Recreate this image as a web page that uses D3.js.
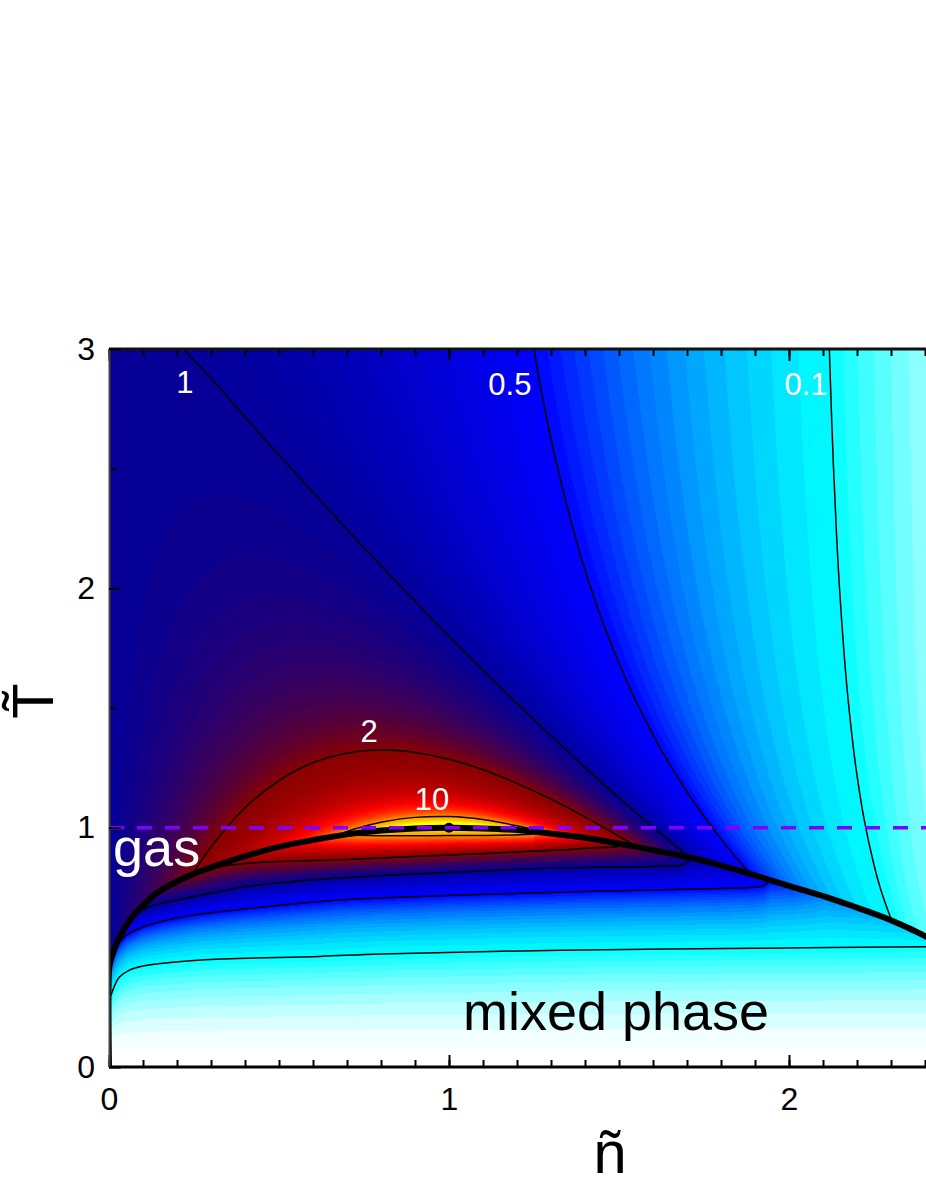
<!DOCTYPE html>
<html><head><meta charset="utf-8">
<script src="https://cdn.jsdelivr.net/npm/d3@7/dist/d3.min.js"></script>
<style>
body{margin:0;background:#fff}
svg{display:block}
text{font-family:"Liberation Sans",Arial,Helvetica,sans-serif}
</style>
</head><body><div id="chart"></div>
<script>
// ---------------- DATA ----------------
// scaled variance omega on a (n, T) grid in the single-phase region (values read/estimated)
const nGrid=[0,0.1,0.2,0.3,0.4,0.5,0.6,0.7,0.8,0.9,1.0,1.1,1.2,1.3,1.4,1.5,1.6,1.7,1.8,1.9,2.0,2.1,2.2,2.3,2.4];
const tGrid=[0.55,0.9,1.2,1.6,2.2,3.0];
const omegaT055=[1.000,1.5127,3.0324,137.08,-3.2787,-1.6517,-1.1210,-0.8604,-0.7076,-0.6094,-0.5432,-0.4983,-0.4692,-0.4537,-0.4521,-0.4681,-0.5119,-0.6138,-0.8980,-2.9877,1.2222,0.3968,0.1975,0.1116,0.0659];
const omegaT090=[1.000,1.2193,1.5433,2.0637,3.0179,5.2632,16.0,-20.544,-7.1176,-4.7805,-4.0,-3.8922,-4.5,-7.3631,64.0,4.0,1.6897,0.9299,0.5714,0.3720,0.25,0.1706,0.1168,0.0793,0.0526];
const omegaT120=[1.000,1.1329,1.2937,1.4880,1.7201,1.9900,2.2857,2.5719,2.7816,2.8303,2.6667,2.3225,1.8947,1.4778,1.1228,0.8421,0.6282,0.4677,0.3478,0.2580,0.1905,0.1394,0.1006,0.0712,0.0488];
const omegaT160=[1.000,1.0758,1.1538,1.2305,1.3006,1.3571,1.3913,1.3948,1.3615,1.2900,1.1852,1.0569,0.9172,0.7776,0.6465,0.5289,0.4270,0.3407,0.2689,0.2098,0.1616,0.1226,0.0912,0.0661,0.0462];
const omegaT220=[1.000,1.0332,1.0600,1.0779,1.0843,1.0768,1.0539,1.0148,0.9603,0.8926,0.8148,0.7310,0.6450,0.5603,0.4799,0.4055,0.3384,0.2788,0.2268,0.1820,0.1438,0.1116,0.0847,0.0624,0.0444];
const omegaT300=[1.000,1.0049,1.0020,0.9905,0.9696,0.9390,0.8989,0.8501,0.7940,0.7322,0.6667,0.5995,0.5325,0.4675,0.4056,0.3478,0.2948,0.2469,0.2041,0.1663,0.1333,0.1049,0.0806,0.0601,0.0431];

// binodal (boundary of the mixed phase), [n, T]
const binodal=[[0,0],[0,0.40],[0.004,0.44],[0.012,0.476],[0.03,0.54],[0.062,0.614],[0.1,0.675],[0.141,0.727],[0.2,0.775],[0.259,0.812],[0.33,0.848],[0.41,0.885],[0.5,0.92],[0.6,0.948],[0.7,0.972],[0.8,0.988],[0.9,0.997],[1.0,1.0],[1.1,0.997],[1.2,0.99],[1.3,0.975],[1.4,0.958],[1.52,0.928],[1.6,0.906],[1.72,0.872],[1.82,0.834],[1.915,0.794],[2.0,0.757],[2.11,0.71],[2.2,0.666],[2.28,0.625],[2.35,0.582],[2.403,0.545],[2.45,0.51]];

// contour lines above the binodal, [n, T]
const contour1=[[0.217,3.0],[0.3,2.878],[0.4,2.716],[0.5,2.557],[0.6,2.4],[0.7,2.246],[0.8,2.094],[0.9,1.946],[1.0,1.8],[1.1,1.658],[1.2,1.519],[1.3,1.384],[1.4,1.252],[1.5,1.125],[1.6,1.002],[1.7,0.884],[1.705,0.878]];
const contour05=[[1.245,3.04],[1.3,2.625],[1.4,2.078],[1.5,1.688],[1.6,1.389],[1.7,1.150],[1.8,0.953],[1.85,0.866],[1.89,0.802]];
const contour01=[[2.118,3.04],[2.12,2.941],[2.13,2.535],[2.14,2.220],[2.15,1.969],[2.17,1.593],[2.19,1.326],[2.2,1.219],[2.22,1.042],[2.25,0.844],[2.27,0.741],[2.3,0.619]];
const contour2=[[0.245,0.804],[0.26,0.837],[0.3,0.919],[0.4,1.083],[0.5,1.197],[0.6,1.271],[0.7,1.311],[0.8,1.324],[0.9,1.314],[1.0,1.286],[1.1,1.242],[1.2,1.185],[1.3,1.119],[1.4,1.045],[1.5,0.964],[1.55,0.923]];
const contour10=[[0.69,0.978],[0.7,0.984],[0.75,1.006],[0.8,1.023],[0.9,1.043],[1.0,1.0465],[1.1,1.034],[1.2,1.008],[1.25,0.991],[1.28,0.979]];

// contour lines inside the mixed phase, [n, T]
const mixed01=[[0.006,0.30],[0.015,0.335],[0.03,0.375],[0.06,0.405],[0.1,0.422],[0.27,0.447],[0.62,0.462],[0.8,0.472],[1.33,0.488],[1.9,0.496],[2.45,0.503]];
const mixed05=[[0.02,0.50],[0.05,0.55],[0.1,0.585],[0.16,0.61],[0.25,0.635],[0.41,0.662],[0.68,0.698],[1.0,0.717],[1.4,0.733],[1.7,0.743],[1.88,0.75],[1.925,0.757],[1.945,0.78]];
const mixed1=[[0.09,0.652],[0.13,0.675],[0.21,0.70],[0.41,0.755],[0.68,0.79],[1.0,0.813],[1.33,0.832],[1.6,0.838],[1.68,0.842],[1.70,0.855],[1.71,0.872]];
const mixed2=[[0.25,0.805],[0.32,0.835],[0.415,0.852],[0.68,0.866],[1.0,0.886],[1.33,0.907],[1.42,0.915],[1.49,0.92],[1.52,0.928]];
const mixed10=[[0.72,0.968],[0.85,0.966],[1.0,0.967],[1.15,0.968],[1.25,0.972]];
const mixedLevels=[0.1,0.5,1,2,10];
// omega just below the binodal (mixed side)
const binodalMixN=[0.0,0.012,0.09,0.25,0.4,0.6,0.7,0.8,1.0,1.2,1.26,1.38,1.52,1.71,1.945,2.1,2.45];
const binodalMixOmega=[0.3,0.5,1.0,2.0,3.0,6.0,10,14,20,14,10,4.5,2.0,1.0,0.5,0.3,0.13];
const mixedFloorT=0.08;

// colour map
const colorStops=[0,0.1,0.5,1,2,3,5,10,20];
const colorRange=["#ffffff","#00ffff","#0000ff","#03009a","#880000","#b00000","#ff0000","#ffa000","#ffff00"];

// ticks and labels
const xMajorTicks=[0,1,2];
const yMajorTicks=[0,1,2,3];
const yMinorTicks=[0.5,1.5,2.5];
const contourLabels=[{t:"1",n:0.2235,T:2.816},{t:"0.5",n:1.179,T:2.808},{t:"0.1",n:2.05,T:2.808},{t:"2",n:0.765,T:1.358},{t:"10",n:0.95,T:1.074}];
const criticalPoint=[1,1];

// ---------------- DRAW ----------------
const W=926,H=1199;
const plotL=109,plotR=926,plotT=349,plotB=1067;
const x=d3.scaleLinear().domain([0,3]).range([109,1129]);
const y=d3.scaleLinear().domain([0,3]).range([1067,349]);
const color=d3.scaleLinear().domain(colorStops).range(colorRange).clamp(true);

const svg=d3.select("#chart").append("svg").attr("width",W).attr("height",H);
svg.append("rect").attr("width",W).attr("height",H).attr("fill","#fff");
svg.append("clipPath").attr("id","clip").append("rect")
  .attr("x",plotL).attr("y",plotT).attr("width",x(3)-plotL).attr("height",plotB-plotT);

// lookups
const bin=binodal.slice(1);
const tbScale=d3.scaleLinear().domain(bin.map(d=>d[0])).range(bin.map(d=>d[1])).clamp(true);
const wbScale=d3.scaleLinear().domain(binodalMixN).range(binodalMixOmega).clamp(true);
const mixedLines=[mixed01,mixed05,mixed1,mixed2,mixed10].map((pts,i)=>({
  w:mixedLevels[i], n0:pts[0][0], n1:pts[pts.length-1][0],
  s:d3.scaleLinear().domain(pts.map(p=>p[0])).range(pts.map(p=>p[1]))
}));
const omegaRows=[omegaT055,omegaT090,omegaT120,omegaT160,omegaT220,omegaT300];
const fRows=omegaRows.map(r=>r.map(w=>1/w));
const uGrid=tGrid.map(t=>1/t);
const dn=nGrid[1]-nGrid[0];
function cr(arr,n){
  const s=(n-nGrid[0])/dn; let i=Math.floor(s); i=Math.max(0,Math.min(arr.length-2,i)); const t=s-i;
  const L=arr.length;
  const get=k=>k<0?2*arr[0]-arr[1]:(k>=L?2*arr[L-1]-arr[L-2]:arr[k]);
  const p0=get(i-1),p1=get(i),p2=get(i+1),p3=get(i+2);
  return 0.5*(2*p1+(-p0+p2)*t+(2*p0-5*p1+4*p2-p3)*t*t+(-p0+3*p1-3*p2+p3)*t*t*t);
}
const G=w=>Math.log(Math.max(w,0)+0.03), Ginv=g=>Math.max(0,Math.exp(g)-0.03);
function quant(w){
  if(w<=0) return 0;
  if(w<0.1) return (Math.ceil(w/0.01)-0.5)*0.01;
  if(w<1) return (Math.ceil(w/0.025)-0.5)*0.025;
  if(w<2) return (Math.ceil(w/0.05)-0.5)*0.05;
  const s=0.04; return Math.exp((Math.ceil(Math.log(w)/s)-0.5)*s);
}
const cache=new Map();
function rgbOf(w){
  const q=quant(w); const k=q.toFixed(5);
  let c=cache.get(k);
  if(!c){const cc=d3.rgb(color(q)); c=[cc.r,cc.g,cc.b]; cache.set(k,c);}
  return c;
}

const cw=plotR-plotL, ch=plotB-plotT;
const canvas=document.createElement("canvas"); canvas.width=cw; canvas.height=ch;
const ctx=canvas.getContext("2d"); const img=ctx.createImageData(cw,ch); const D=img.data;
for(let px=0;px<cw;px++){
  const n=Math.max(0,x.invert(plotL+px+0.5));
  const Tb=tbScale(n);
  const fc=fRows.map(r=>cr(r,n));
  const anchors=[{T:mixedFloorT,g:G(0)}];
  mixedLines.forEach(Lm=>{ if(n>=Lm.n0&&n<=Lm.n1){const t=Lm.s(n); if(t<Tb) anchors.push({T:t,g:G(Lm.w)});} });
  anchors.push({T:Tb,g:G(wbScale(n))});
  anchors.sort((a,b)=>a.T-b.T);
  for(let py=0;py<ch;py++){
    const T=y.invert(plotT+py+0.5);
    let w;
    if(T>=Tb){
      const u=1/T; let j=0;
      while(j<uGrid.length-2&&u<uGrid[j+1]) j++;
      const f=fc[j]+(u-uGrid[j])*(fc[j+1]-fc[j])/(uGrid[j+1]-uGrid[j]);
      w=f>1e-4?1/f:1e4;
    } else {
      if(T<=anchors[0].T) w=0;
      else{
        let k=0; while(k<anchors.length-2&&T>anchors[k+1].T) k++;
        const a=anchors[k],b=anchors[k+1];
        const fr=b.T>a.T?Math.min(1,(T-a.T)/(b.T-a.T)):1;
        w=Ginv(a.g+fr*(b.g-a.g));
      }
    }
    const c=rgbOf(w); const o=(py*cw+px)*4;
    D[o]=c[0];D[o+1]=c[1];D[o+2]=c[2];D[o+3]=255;
  }
}
ctx.putImageData(img,0,0);
svg.append("image").attr("x",plotL).attr("y",plotT).attr("width",cw).attr("height",ch)
  .attr("href",canvas.toDataURL());

const plot=svg.append("g").attr("clip-path","url(#clip)");
const line=d3.line().x(d=>x(d[0])).y(d=>y(d[1])).curve(d3.curveCatmullRom.alpha(0.5));
[contour1,contour05,contour01,contour2,contour10,mixed01,mixed05,mixed1,mixed2,mixed10].forEach(c=>{
  plot.append("path").attr("d",line(c)).attr("fill","none").attr("stroke","#000").attr("stroke-width",1.5);
});
plot.append("path").attr("d",line(binodal)).attr("fill","none").attr("stroke","#000").attr("stroke-width",6).attr("stroke-linejoin","round");
plot.append("circle").attr("cx",x(criticalPoint[0])).attr("cy",y(criticalPoint[1])).attr("r",5).attr("fill","#000");
plot.append("line").attr("x1",x(0)).attr("x2",x(3)).attr("y1",y(1)).attr("y2",y(1))
  .attr("stroke","#8000ff").attr("stroke-width",3.5).attr("stroke-dasharray","15,13");

// labels
plot.selectAll("text.cl").data(contourLabels).enter().append("text").attr("class","cl")
  .attr("x",d=>x(d.n)).attr("y",d=>y(d.T)).attr("text-anchor","middle")
  .attr("fill","#fff").attr("font-size",31).text(d=>d.t);
plot.append("text").attr("x",x(0.012)).attr("y",y(0.84)).attr("fill","#fff").attr("font-size",54).text("gas");
plot.append("text").attr("x",x(1.041)).attr("y",y(0.155)).attr("fill","#000").attr("font-size",54).text("mixed phase");

// axes
function styleAxis(g,sw,col){
  g.select(".domain").attr("stroke",col).attr("stroke-width",sw);
  g.selectAll(".tick line").attr("stroke","#000").attr("stroke-width",2);
  g.selectAll(".tick text").attr("font-size",32).attr("fill","#000")
   .attr("font-family","'Liberation Sans',Arial,sans-serif");
}
const xMinorTicks=d3.range(0,3.001,0.1).map(v=>+v.toFixed(1));
// bottom
svg.append("g").attr("transform",`translate(0,${plotB})`)
  .call(d3.axisBottom(x).tickValues(xMinorTicks).tickSize(-7).tickSizeOuter(0).tickFormat(""))
  .call(g=>g.select(".domain").remove()).call(g=>styleAxis(g,3,"#000"));
svg.append("g").attr("transform",`translate(0,${plotB})`)
  .call(d3.axisBottom(x).tickValues(xMajorTicks).tickSize(-12).tickSizeOuter(0).tickPadding(20).tickFormat(d3.format("d")))
  .call(g=>styleAxis(g,3,"#000"))
  .call(g=>g.select(".domain").attr("d",`M${x(0)},0H${x(3)}`));
// top
svg.append("g").attr("transform",`translate(0,${plotT})`)
  .call(d3.axisTop(x).tickValues(xMinorTicks).tickSize(-7).tickSizeOuter(0).tickFormat(""))
  .call(g=>g.select(".domain").remove()).call(g=>styleAxis(g,3,"#000"));
svg.append("g").attr("transform",`translate(0,${plotT})`)
  .call(d3.axisTop(x).tickValues(xMajorTicks).tickSize(-12).tickSizeOuter(0).tickFormat(""))
  .call(g=>styleAxis(g,3,"#111"))
  .call(g=>g.select(".domain").attr("d",`M${x(0)},0H${x(3)}`));
// left
svg.append("g").attr("transform",`translate(${plotL},0)`)
  .call(d3.axisLeft(y).tickValues(yMinorTicks).tickSize(-7).tickSizeOuter(0).tickFormat(""))
  .call(g=>g.select(".domain").remove()).call(g=>styleAxis(g,2,"#444"));
svg.append("g").attr("transform",`translate(${plotL},0)`)
  .call(d3.axisLeft(y).tickValues(yMajorTicks).tickSize(-12).tickSizeOuter(0).tickPadding(14).tickFormat(d3.format("d")))
  .call(g=>styleAxis(g,2,"#444"));

// axis titles
svg.append("text").attr("x",610).attr("y",1173).attr("text-anchor","middle").attr("font-size",60).text("ñ");
svg.append("text").attr("transform","translate(53,701) rotate(-90)").attr("text-anchor","middle").attr("font-size",58).text("T\u0303");
</script></body></html>
